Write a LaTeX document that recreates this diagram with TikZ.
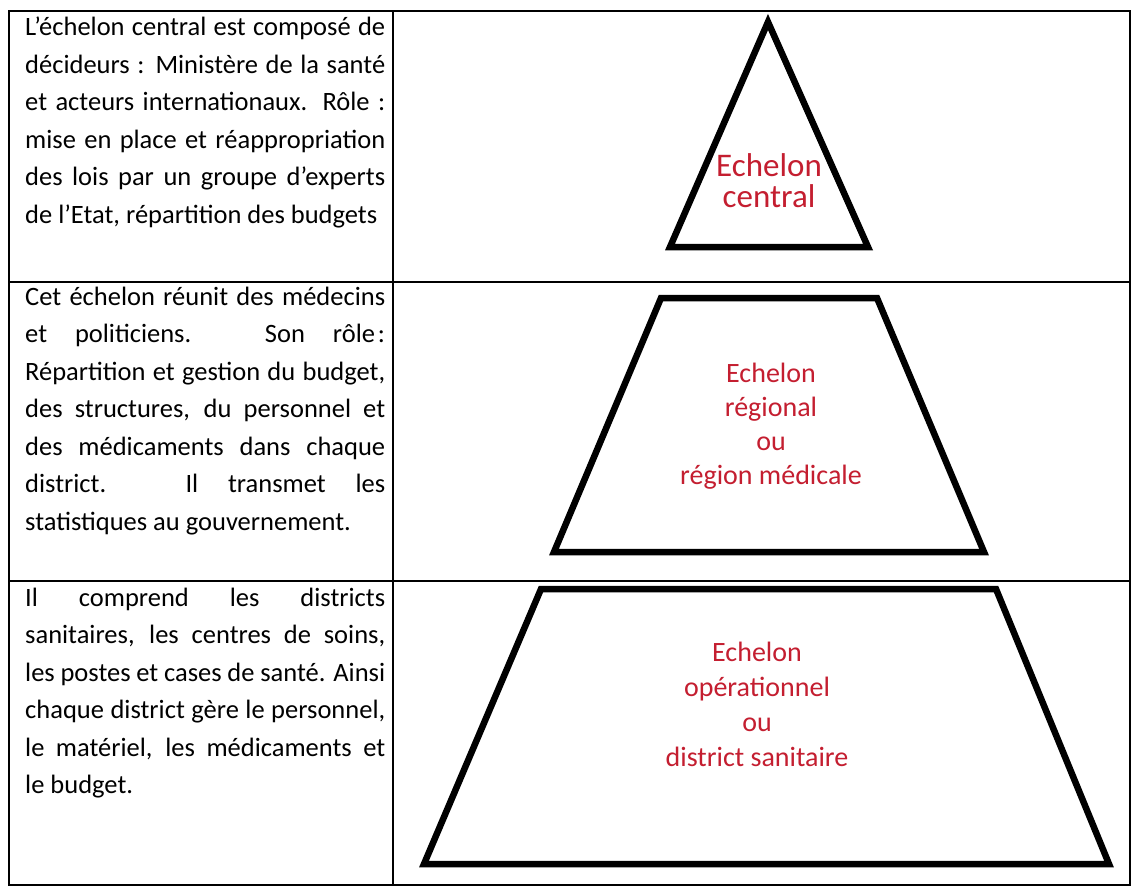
\documentclass[tikz,border=0pt]{standalone}
\usepackage{fontspec}
\setmainfont{Carlito}
\definecolor{labelred}{RGB}{196,30,48}
% one line of a justified paragraph, and the unjustified last line
\newcommand\jline[1]{\makebox[360pt][s]{#1}}
\newcommand\lline[1]{\makebox[360pt][l]{#1}}
% centred label whose reference point is the first baseline
\newcommand\tagbox[1]{\parbox[t]{320pt}{\centering\lineskiplimit=-60pt #1}}
\begin{document}
\begin{tikzpicture}[x=1pt,y=-1pt,
  rule/.style={line width=2.4pt, draw=black},
  level/.style={line width=6.5pt, draw=black, line join=miter, miter limit=20},
  desc/.style={anchor=base west, inner sep=0pt, font=\fontsize{26.5}{37.5}\selectfont},
  tag/.style={anchor=base, inner sep=0pt, text=labelred}]
\useasboundingbox (0,0) rectangle (1134,888);
\fill[white] (0,0) rectangle (1134,888);

% table grid
\draw[rule] (9,11) rectangle (1130,885);
\draw[rule] (393,11) -- (393,885);
\draw[rule] (9,282) -- (1130,282);
\draw[rule] (9,581) -- (1130,581);

% descriptions, left column
\node[desc] (t1) at (25,36) {\parbox[t]{360pt}{%
  \jline{L’échelon central est composé de}\\
  \jline{décideurs : Ministère de la santé}\\
  \jline{et acteurs internationaux. Rôle :}\\
  \jline{mise en place et réappropriation}\\
  \jline{des lois par un groupe d’experts}\\
  \lline{de l’Etat, répartition des budgets}}};

\node[desc] (t2) at (25,305) {\parbox[t]{360pt}{%
  \jline{Cet échelon réunit des médecins}\\
  \jline{et politiciens. Son rôle\kern3pt:}\\
  \jline{Répartition et gestion du budget,}\\
  \jline{des structures, du personnel et}\\
  \jline{des médicaments dans chaque}\\
  \jline{district. Il transmet les}\\
  \lline{statistiques au gouvernement.}}};

\node[desc] (t3) at (25,606) {\parbox[t]{360pt}{%
  \jline{Il comprend les districts}\\
  \jline{sanitaires, les centres de soins,}\\
  \jline{les postes et cases de santé. Ainsi}\\
  \jline{chaque district gère le personnel,}\\
  \jline{le matériel, les médicaments et}\\
  \lline{le budget.}}};

% pyramid levels, right column
\draw[level] (768,22) -- (868,247) -- (670,247) -- cycle;
\draw[level] (661,298) -- (877,298) -- (984,552) -- (554,552) -- cycle;
\draw[level] (541,589) -- (996,589) -- (1109,864) -- (424,864) -- cycle;

\node[tag, font=\fontsize{33}{31}\selectfont] (lab1) at (769,176)
  {\tagbox{Echelon\\central}};
\node[tag, font=\fontsize{28}{34}\selectfont] (lab2) at (771,382)
  {\tagbox{Echelon\\régional\\ou\\région médicale}};
\node[tag, font=\fontsize{28}{35}\selectfont] (lab3) at (757,661)
  {\tagbox{Echelon\\opérationnel\\ou\\district sanitaire}};
\end{tikzpicture}
\end{document}
